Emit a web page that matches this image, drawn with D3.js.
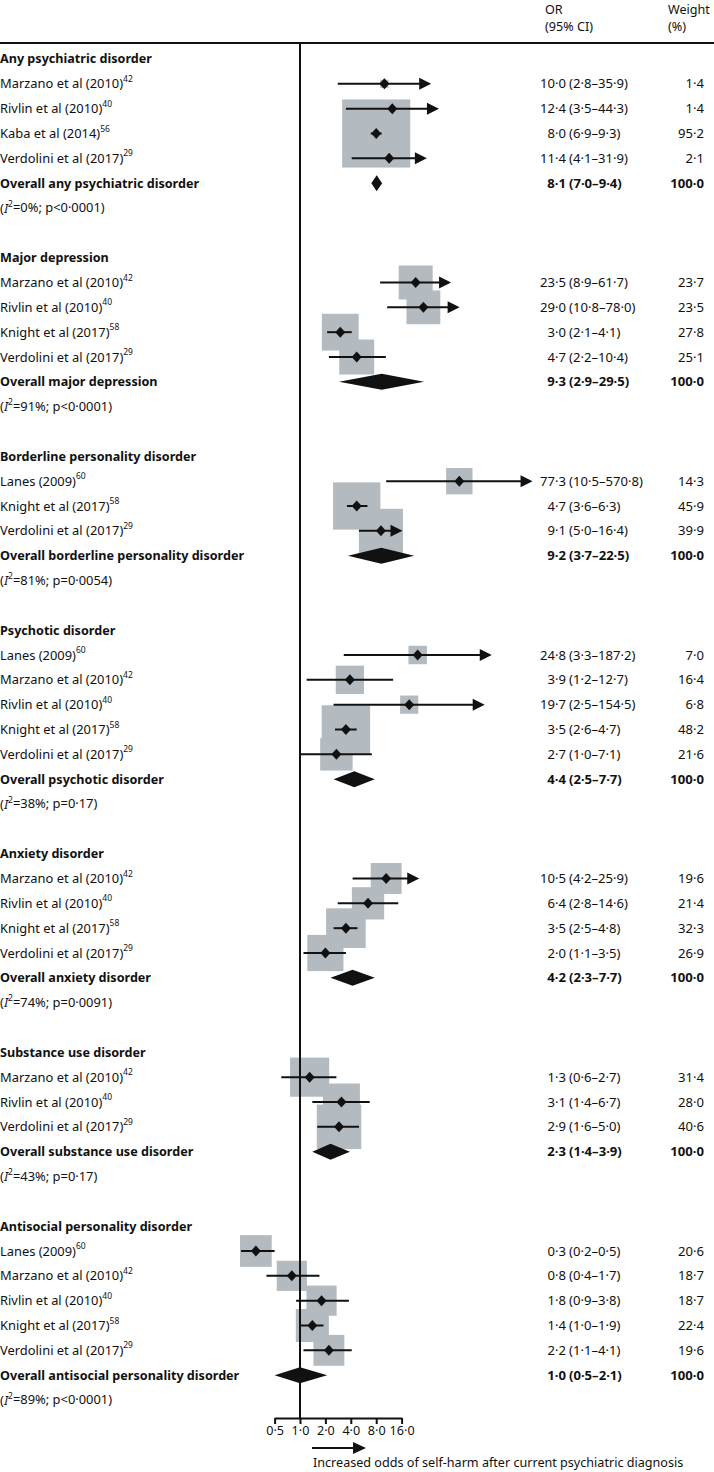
<!DOCTYPE html>
<html>
<head>
<meta charset="utf-8">
<script src="https://cdn.jsdelivr.net/npm/d3@7"></script>
<style>
  html, body { margin: 0; padding: 0; background: #fff; }
  svg { display: block; }
  text { font-family: "Noto Sans", "Open Sans", sans-serif; fill: #111; }
</style>
</head>
<body>
<script>
// ---------- DATA ----------
const groups = [
  "Any psychiatric disorder",
  "Major depression",
  "Borderline personality disorder",
  "Psychotic disorder",
  "Anxiety disorder",
  "Substance use disorder",
  "Antisocial personality disorder"
];
const heterogeneity = [
  ["0%", "p<0·0001"],
  ["91%", "p<0·0001"],
  ["81%", "p=0·0054"],
  ["38%", "p=0·17"],
  ["74%", "p=0·0091"],
  ["43%", "p=0·17"],
  ["89%", "p<0·0001"]
];
// studies per group: [name, ref, OR, lo, hi, weight]
const studiesAny = [
  ["Marzano et al (2010)", "42", 10.0, 2.8, 35.9, 1.4],
  ["Rivlin et al (2010)", "40", 12.4, 3.5, 44.3, 1.4],
  ["Kaba et al (2014)", "56", 8.0, 6.9, 9.3, 95.2],
  ["Verdolini et al (2017)", "29", 11.4, 4.1, 31.9, 2.1]
];
const studiesDepression = [
  ["Marzano et al (2010)", "42", 23.5, 8.9, 61.7, 23.7],
  ["Rivlin et al (2010)", "40", 29.0, 10.8, 78.0, 23.5],
  ["Knight et al (2017)", "58", 3.0, 2.1, 4.1, 27.8],
  ["Verdolini et al (2017)", "29", 4.7, 2.2, 10.4, 25.1]
];
const studiesBorderline = [
  ["Lanes (2009)", "60", 77.3, 10.5, 570.8, 14.3],
  ["Knight et al (2017)", "58", 4.7, 3.6, 6.3, 45.9],
  ["Verdolini et al (2017)", "29", 9.1, 5.0, 16.4, 39.9]
];
const studiesPsychotic = [
  ["Lanes (2009)", "60", 24.8, 3.3, 187.2, 7.0],
  ["Marzano et al (2010)", "42", 3.9, 1.2, 12.7, 16.4],
  ["Rivlin et al (2010)", "40", 19.7, 2.5, 154.5, 6.8],
  ["Knight et al (2017)", "58", 3.5, 2.6, 4.7, 48.2],
  ["Verdolini et al (2017)", "29", 2.7, 1.0, 7.1, 21.6]
];
const studiesAnxiety = [
  ["Marzano et al (2010)", "42", 10.5, 4.2, 25.9, 19.6],
  ["Rivlin et al (2010)", "40", 6.4, 2.8, 14.6, 21.4],
  ["Knight et al (2017)", "58", 3.5, 2.5, 4.8, 32.3],
  ["Verdolini et al (2017)", "29", 2.0, 1.1, 3.5, 26.9]
];
const studiesSubstance = [
  ["Marzano et al (2010)", "42", 1.3, 0.6, 2.7, 31.4],
  ["Rivlin et al (2010)", "40", 3.1, 1.4, 6.7, 28.0],
  ["Verdolini et al (2017)", "29", 2.9, 1.6, 5.0, 40.6]
];
const studiesAntisocial = [
  ["Lanes (2009)", "60", 0.3, 0.2, 0.5, 20.6],
  ["Marzano et al (2010)", "42", 0.8, 0.4, 1.7, 18.7],
  ["Rivlin et al (2010)", "40", 1.8, 0.9, 3.8, 18.7],
  ["Knight et al (2017)", "58", 1.4, 1.0, 1.9, 22.4],
  ["Verdolini et al (2017)", "29", 2.2, 1.1, 4.1, 19.6]
];
const studies = [studiesAny, studiesDepression, studiesBorderline, studiesPsychotic,
                 studiesAnxiety, studiesSubstance, studiesAntisocial];
// overall: [OR, lo, hi]
const overall = [
  [8.1, 7.0, 9.4],
  [9.3, 2.9, 29.5],
  [9.2, 3.7, 22.5],
  [4.4, 2.5, 7.7],
  [4.2, 2.3, 7.7],
  [2.3, 1.4, 3.9],
  [1.0, 0.5, 2.1]
];
const tickValues = [0.5, 1, 2, 4, 8, 16];
const tickLabels = ["0·5", "1·0", "2·0", "4·0", "8·0", "16·0"];
const axisMax = 16;
const axisCaption = "Increased odds of self-harm after current psychiatric diagnosis";

// ---------- BUILD ROWS ----------
const fmt = v => v.toFixed(1).replace(".", "·");
const rows = [];
groups.forEach((g, gi) => {
  rows.push({type: "header", label: g});
  studies[gi].forEach(s => rows.push({type: "study", label: s[0], ref: s[1], or: s[2], lo: s[3], hi: s[4], w: s[5]}));
  const o = overall[gi];
  rows.push({type: "overall", label: "Overall " + g.charAt(0).toLowerCase() + g.slice(1), or: o[0], lo: o[1], hi: o[2], w: 100});
  rows.push({type: "het", i2: heterogeneity[gi][0], p: heterogeneity[gi][1]});
  if (gi < groups.length - 1) rows.push({type: "blank"});
});
rows.forEach((r, i) => r.idx = i);

// ---------- LAYOUT ----------
const W = 714, H = 1472;
const svg = d3.select("body").append("svg").attr("width", W).attr("height", H);

const y = d3.scaleLinear().domain([0, rows.length - 1]).range([59, 1400]);
const x = d3.scaleLog().base(2).domain([0.5, 16]).range([274.6, 401.6]);
const boxSide = d3.scaleSqrt().domain([0, 100]).range([0, 69.8]);
const axisY = 1418;
const topRule = 43;
const FS = 12.6;     // general text
const FSN = 13.1;    // numeric columns
const FSL = 12.9;    // left-hand labels (regular)
const FSB = 12.6;    // left-hand labels (bold)

// header
const hdr = svg.append("g").attr("font-size", FS);
hdr.append("text").attr("x", 545).attr("y", 10).attr("dy", "0.35em").text("OR");
hdr.append("text").attr("x", 545).attr("y", 27).attr("dy", "0.35em").text("(95% CI)");
hdr.append("text").attr("x", 668).attr("y", 10).attr("dy", "0.35em").text("Weight");
hdr.append("text").attr("x", 668).attr("y", 27).attr("dy", "0.35em").text("(%)");
svg.append("line").attr("x1", 0).attr("x2", W).attr("y1", topRule).attr("y2", topRule)
  .attr("stroke", "#111").attr("stroke-width", 2);

// boxes (drawn first, beneath everything)
const studyRows = rows.filter(r => r.type === "study");
svg.append("g").selectAll("rect").data(studyRows).join("rect")
  .attr("x", d => x(d.or) - boxSide(d.w) / 2)
  .attr("y", d => y(d.idx) - boxSide(d.w) / 2)
  .attr("width", d => boxSide(d.w))
  .attr("height", d => boxSide(d.w))
  .attr("fill", "#b3bbc1");

// null line
svg.append("line").attr("x1", x(1)).attr("x2", x(1)).attr("y1", topRule).attr("y2", axisY)
  .attr("stroke", "#111").attr("stroke-width", 2);

// CI lines
const ci = svg.append("g");
ci.selectAll("line").data(studyRows).join("line")
  .attr("x1", d => x(d.lo))
  .attr("x2", d => d.hi > axisMax ? x(d.hi) - 10 : x(d.hi))
  .attr("y1", d => y(d.idx)).attr("y2", d => y(d.idx))
  .attr("stroke", "#111").attr("stroke-width", 2);
// arrowheads
ci.selectAll("path.arrow").data(studyRows.filter(d => d.hi > axisMax)).join("path")
  .attr("class", "arrow")
  .attr("d", d => {
    const tx = x(d.hi), cy = y(d.idx);
    return `M${tx},${cy} L${tx - 12},${cy - 6} L${tx - 12},${cy + 6} Z`;
  })
  .attr("fill", "#111");
// point estimate markers
ci.selectAll("path.pt").data(studyRows).join("path")
  .attr("class", "pt")
  .attr("d", d => {
    const cx = x(d.or), cy = y(d.idx);
    return `M${cx - 5},${cy} L${cx},${cy - 5.5} L${cx + 5},${cy} L${cx},${cy + 5.5} Z`;
  })
  .attr("fill", "#111");

// overall diamonds
const overallRows = rows.filter(r => r.type === "overall");
svg.append("g").selectAll("path").data(overallRows).join("path")
  .attr("d", d => {
    const cy = y(d.idx);
    return `M${x(d.lo)},${cy} L${x(d.or)},${cy - 8} L${x(d.hi)},${cy} L${x(d.or)},${cy + 8} Z`;
  })
  .attr("fill", "#111");

// labels
const lab = svg.append("g").attr("font-size", FSL);
const num = svg.append("g").attr("font-size", FSN);
rows.forEach(r => {
  const yy = y(r.idx);
  if (r.type === "header" || r.type === "overall") {
    lab.append("text").attr("x", 0).attr("y", yy).attr("dy", "0.35em")
      .attr("font-size", FSB).attr("font-weight", "bold").text(r.label);
  } else if (r.type === "study") {
    const t = lab.append("text").attr("x", 0).attr("y", yy).attr("dy", "0.35em");
    t.append("tspan").text(r.label);
    t.append("tspan").attr("font-size", 8.5).attr("dy", "-0.75em").text(r.ref);
  } else if (r.type === "het") {
    const t = lab.append("text").attr("x", 0).attr("y", yy).attr("dy", "0.35em");
    t.append("tspan").text("(");
    t.append("tspan").attr("font-style", "italic").text("I");
    t.append("tspan").attr("font-size", 8.5).attr("dy", "-0.7em").text("2");
    t.append("tspan").attr("dy", "0.46em").text("=" + r.i2 + "; " + r.p + ")");
  }
  if (r.type === "study" || r.type === "overall") {
    const bold = r.type === "overall" ? "bold" : "normal";
    num.append("text").attr("x", 566).attr("y", yy).attr("dy", "0.35em")
      .attr("text-anchor", "end").attr("font-weight", bold).text(fmt(r.or));
    num.append("text").attr("x", 569).attr("y", yy).attr("dy", "0.35em")
      .attr("font-weight", bold).text("(" + fmt(r.lo) + "–" + fmt(r.hi) + ")");
    num.append("text").attr("x", 704).attr("y", yy).attr("dy", "0.35em")
      .attr("text-anchor", "end").attr("font-weight", bold).text(fmt(r.w));
  }
});

// axis
const axis = d3.axisBottom(x).tickValues(tickValues)
  .tickFormat((d, i) => tickLabels[i]).tickSize(6).tickSizeOuter(0);
const ag = svg.append("g").attr("transform", `translate(0,${axisY})`).call(axis);
ag.select(".domain").attr("stroke", "#111").attr("stroke-width", 2);
ag.selectAll(".tick line").attr("stroke", "#111").attr("stroke-width", 2);
ag.selectAll(".tick text").attr("font-size", FS).attr("font-family", "Noto Sans, sans-serif")
  .attr("fill", "#111").attr("y", 8);

// direction arrow
svg.append("line").attr("x1", x(1) + 12).attr("x2", x(1) + 55).attr("y1", 1448).attr("y2", 1448)
  .attr("stroke", "#111").attr("stroke-width", 2);
svg.append("path")
  .attr("d", `M${x(1) + 66},1448 L${x(1) + 53},1442 L${x(1) + 53},1454 Z`).attr("fill", "#111");
svg.append("text").attr("x", x(1) + 13).attr("y", 1463).attr("dy", "0.35em")
  .attr("font-size", FS).text(axisCaption);
</script>
</body>
</html>
